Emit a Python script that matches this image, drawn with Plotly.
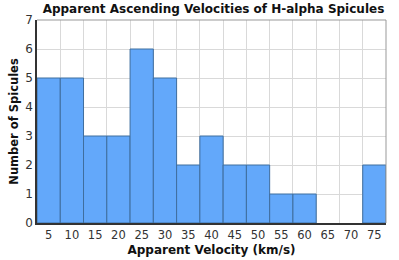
import plotly.graph_objects as go

velocities = [5, 10, 15, 20, 25, 30, 35, 40, 45, 50, 55, 60, 65, 70, 75]
counts = [5, 5, 3, 3, 6, 5, 2, 3, 2, 2, 1, 1, 0, 0, 2]
bin_edges = [2.5 + 5 * i for i in range(16)]

fig = go.Figure(go.Bar(
    x=velocities, y=counts, width=5,
    marker=dict(color="#63A8FA",
                line=dict(color="#3F6E9E", width=[1 if c > 0 else 0 for c in counts])),
))

font = "DejaVu Sans, Verdana, sans-serif"
fig.update_layout(
    width=399, height=260,
    margin=dict(l=37, r=13, t=20, b=37, autoexpand=False),
    paper_bgcolor="white", plot_bgcolor="white",
    showlegend=False,
    font=dict(family=font, color="#333333", size=11),
    title=dict(text="<b>Apparent Ascending Velocities of H-alpha Spicules</b>",
               x=0.535, xanchor="center", y=1 - 9 / 260, yanchor="middle",
               font=dict(size=12, color="#111111", family=font)),
)
fig.update_xaxes(
    range=[2.5, 77.5], tickvals=velocities, ticktext=[str(v) for v in velocities],
    showgrid=False, zeroline=False, automargin=False,
    showline=True, linecolor="#333333", linewidth=1.5,
    ticks="", tickfont=dict(size=11.5, color="#333333"),
    minor=dict(tickvals=bin_edges, showgrid=True, gridcolor="#D9D9D9", gridwidth=1, ticks=""),
    title=dict(text="<b>Apparent Velocity (km/s)</b>", standoff=5,
               font=dict(size=12, color="#111111")),
)
fig.update_yaxes(
    range=[0, 7], dtick=1, showgrid=True, gridcolor="#D9D9D9", gridwidth=1,
    zeroline=False, showline=True, linecolor="#333333", linewidth=1.5, automargin=False,
    ticks="", tickfont=dict(size=12, color="#333333"),
    title=dict(text="<b>Number of Spicules</b>", standoff=4,
               font=dict(size=11.5, color="#111111")),
)
fig.add_shape(type="line", xref="paper", yref="paper", x0=0, x1=1, y0=1, y1=1,
              line=dict(color="#999999", width=1))
fig.add_shape(type="line", xref="paper", yref="paper", x0=1, x1=1, y0=0, y1=1,
              line=dict(color="#999999", width=1))
fig.write_html("out.html", config={"displayModeBar": False},
               post_script="document.body.style.margin='0';document.body.style.overflow='hidden';")
